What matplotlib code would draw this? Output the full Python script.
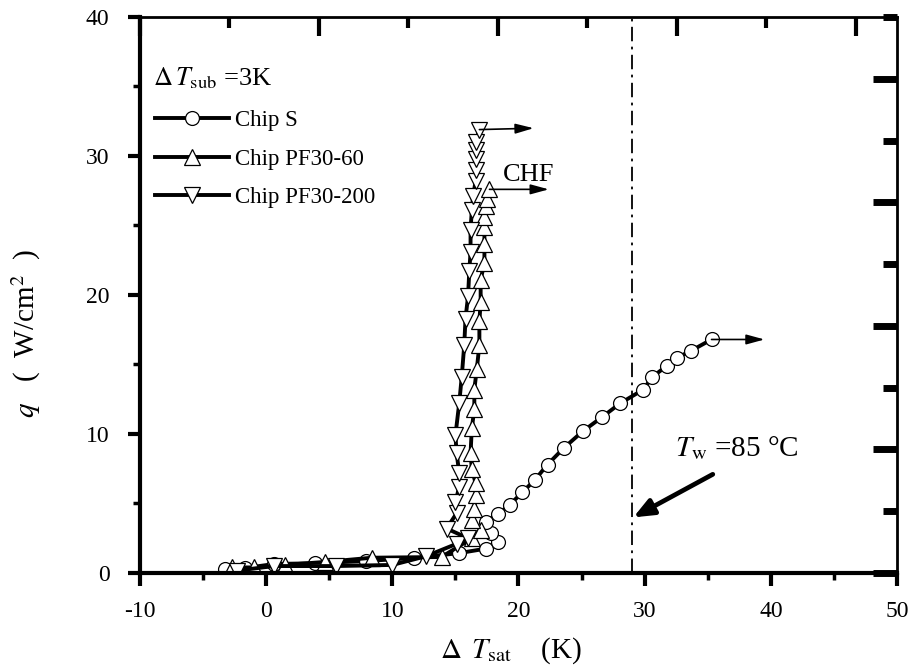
import matplotlib.pyplot as plt
from matplotlib.ticker import MultipleLocator

plt.rcParams['font.family'] = ['Liberation Serif', 'DejaVu Serif']
plt.rcParams['mathtext.fontset'] = 'stix'
plt.rcParams['axes.unicode_minus'] = False

# Chip S (circles)
s_x = [-3.25, -1.66, 0.66, 3.9, 7.9, 11.7, 15.3, 17.4, 18.4, 17.8, 17.4, 18.4, 19.3,
       20.3, 21.3, 22.3, 23.6, 25.1, 26.6, 28.05, 29.9, 30.6, 31.75, 32.6, 33.7, 35.3]
s_q = [0.27, 0.36, 0.65, 0.7, 0.86, 1.08, 1.43, 1.75, 2.25, 2.9, 3.7, 4.25, 4.9,
       5.8, 6.7, 7.8, 9.0, 10.2, 11.2, 12.2, 13.2, 14.1, 14.9, 15.5, 16.0, 16.8]

# Chip PF30-60 (up triangles)
p60_x = [-2.7, -0.95, 1.5, 4.7, 8.4, 13.9, 16.3, 17.0, 16.3, 16.5, 16.6, 16.6, 16.3,
         16.2, 16.3, 16.5, 16.5, 16.7, 16.9, 16.9, 17.0, 17.0, 17.3, 17.3, 17.3, 17.3,
         17.4, 17.5, 17.7]
p60_q = [0.4, 0.4, 0.58, 0.8, 1.1, 1.15, 2.5, 3.1, 3.8, 4.6, 5.6, 6.45, 7.5,
         8.6, 10.4, 11.8, 13.2, 14.7, 16.4, 18.1, 19.5, 21.1, 22.3, 23.7, 24.9, 25.6,
         26.4, 26.9, 27.6]

# Chip PF30-200 (down triangles)
p200_x = [-2.3, 0.6, 5.5, 10.0, 12.65, 15.1, 16.0, 14.3, 15.1, 15.0, 15.3, 15.3, 15.1,
          15.0, 15.3, 15.5, 15.7, 15.8, 16.0, 16.1, 16.2, 16.2, 16.3, 16.4, 16.6, 16.6,
          16.6, 16.6, 16.6, 16.9]
p200_q = [0.17, 0.5, 0.5, 0.58, 1.2, 2.1, 2.5, 3.2, 4.3, 5.1, 6.2, 7.2, 8.6,
          9.9, 12.2, 14.1, 16.4, 18.3, 19.9, 21.7, 23.1, 24.7, 26.1, 27.1, 28.2, 29.0,
          29.8, 30.4, 31.0, 31.9]

tw_line = 29.0

fig = plt.figure(figsize=(9.09, 6.69), dpi=100)
ax = fig.add_axes([0.154, 0.1435, 0.8328, 0.8311])

line_kw = dict(color='black', lw=2.8, mfc='white', mec='black', mew=0.9)
ax.plot(s_x, s_q, marker='o', ms=10, label='Chip S', **line_kw)
ax.plot(p60_x, p60_q, marker='^', ms=11, label='Chip PF30-60', **line_kw)
ax.plot(p200_x, p200_q, marker='v', ms=11, label='Chip PF30-200', **line_kw)

ax.axvline(tw_line, color='black', lw=1.3, ls=(0, (8, 3, 1.5, 3)))

# CHF arrows
arr = dict(arrowstyle='-|>,head_length=1.1,head_width=0.3', color='black', lw=1.2,
           shrinkA=0, shrinkB=0)
ax.annotate('', xy=(21.2, 32.0), xytext=(p200_x[-1], p200_q[-1]), arrowprops=arr)
ax.annotate('', xy=(22.4, 27.6), xytext=(p60_x[-1], p60_q[-1]), arrowprops=arr)
ax.annotate('', xy=(39.5, 16.8), xytext=(s_x[-1], s_q[-1]), arrowprops=arr)

ax.text(20.8, 28.6, 'CHF', fontsize=19, ha='center', va='center')
ax.text(-9.0, 35.6, r'$\Delta\,T_{\rm sub}$ =3K', fontsize=19, ha='left', va='center')
ax.text(32.4, 9.0, r'$T_{\rm w}$ =85 °C', fontsize=21, ha='left', va='center')
ax.annotate('', xy=(29.1, 4.0), xytext=(35.4, 7.1),
            arrowprops=dict(arrowstyle='-|>,head_length=1.2,head_width=0.5',
                            color='black', lw=3.4, shrinkA=0, shrinkB=0))

ax.set_xlim(-10, 50)
ax.set_ylim(0, 40)
ax.xaxis.set_major_locator(MultipleLocator(10))
ax.xaxis.set_minor_locator(MultipleLocator(5))
ax.yaxis.set_major_locator(MultipleLocator(10))
ax.yaxis.set_minor_locator(MultipleLocator(5))
ax.tick_params(which='major', direction='out', length=9, width=3, labelsize=17)
ax.tick_params(axis='x', which='major', pad=11)
ax.tick_params(axis='y', which='major', pad=13)
ax.tick_params(which='minor', direction='out', length=5, width=2.5)
ax.spines['left'].set_linewidth(3)
ax.spines['bottom'].set_linewidth(3)
ax.spines['top'].set_linewidth(2)
ax.spines['right'].set_linewidth(2)

ax.set_xlabel(r'$\Delta\,\ T_{\rm sat}$    (K)', fontsize=21)
ax.set_ylabel(r'$q$   (  W/cm$^2$  )', fontsize=21)
ax.xaxis.set_label_coords(0.49, -0.112)
ax.yaxis.set_label_coords(-0.128, 0.43)

# right and top ticks (inward, unlabeled)
axr = ax.twinx()
axr.set_ylim(0, 9)
axr.yaxis.set_major_locator(MultipleLocator(2))
axr.yaxis.set_minor_locator(MultipleLocator(1))
axr.tick_params(which='major', direction='in', length=17, width=5, labelright=False)
axr.tick_params(which='minor', direction='in', length=10, width=5)
axt = ax.twiny()
axt.set_xlim(0, 8.46)
axt.xaxis.set_major_locator(MultipleLocator(2))
axt.xaxis.set_minor_locator(MultipleLocator(1))
axt.tick_params(which='major', direction='in', length=14, width=3, labeltop=False)
axt.tick_params(which='minor', direction='in', length=8, width=3)
for a in (axr, axt):
    for sp in a.spines.values():
        sp.set_visible(False)

leg = ax.legend(loc='upper left', bbox_to_anchor=(-0.004, 0.865), frameon=False,
                fontsize=16.5, handlelength=3.2, handletextpad=0.3, labelspacing=0.75,
                borderaxespad=0.4)

fig.savefig('out.png', dpi=100)
